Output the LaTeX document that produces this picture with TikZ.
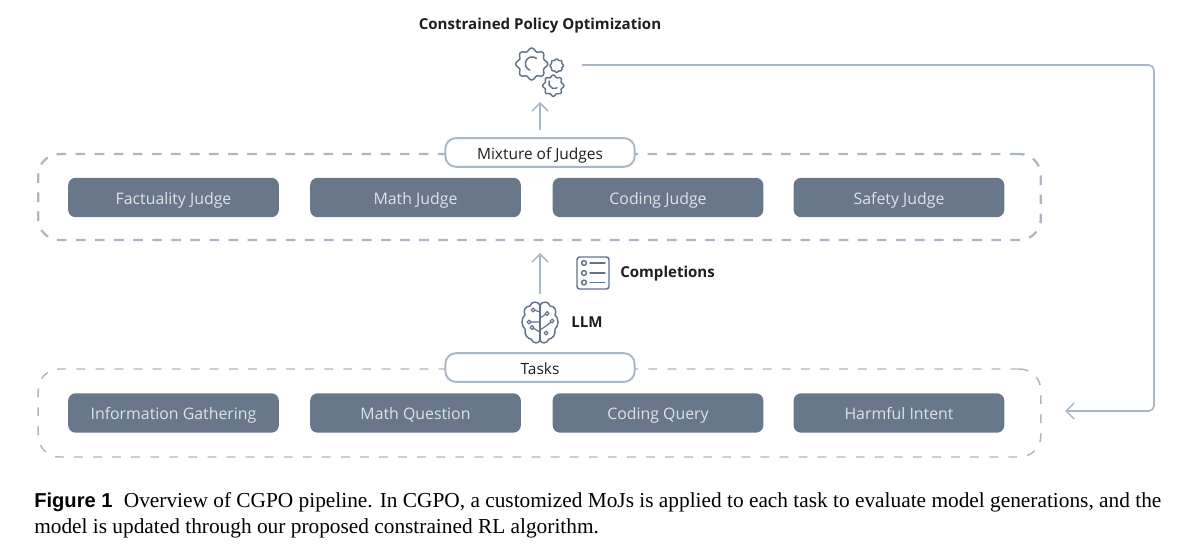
\documentclass[tikz,border=0pt]{standalone}
\usepackage{fontspec}
\setmainfont{Open Sans}
\newfontfamily\capfont{Liberation Serif}
\newfontfamily\capsans{Liberation Sans}
\usetikzlibrary{arrows.meta}
\definecolor{slatebox}{HTML}{68788A}
\definecolor{boxtext}{HTML}{DDE2E7}
\definecolor{linegray}{HTML}{A9B6C3}
\definecolor{icongray}{HTML}{63738A}
\definecolor{inkdark}{HTML}{1C1E21}
\tikzset{
  x=0.75pt,y=-0.75pt,
  judgebox/.style={fill=slatebox,rounded corners=5.5pt,minimum width=158pt,minimum height=29.5pt,inner sep=0pt,text=boxtext,text height=10.4pt,text depth=0.6pt,font=\fontsize{11.9}{13}\selectfont},
  groupbox/.style={draw=linegray,rounded corners=16pt,minimum width=752pt,inner sep=0pt},
  titlebox/.style={draw=linegray,fill=white,line width=1.4pt,rounded corners=8pt,minimum width=142pt,minimum height=21.5pt,inner sep=0pt,text=inkdark,text height=10.4pt,text depth=0.6pt,font=\fontsize{11.6}{13}\selectfont},
  boldlabel/.style={text=inkdark,font=\fontsize{11.3}{13}\selectfont\bfseries,inner sep=0pt,text height=8.6pt,text depth=2.4pt},
  flow/.style={draw=linegray,line width=1.2pt,-{Straight Barb[length=6pt,width=12pt,line width=1.1pt]}},
  icon/.style={draw=icongray,line width=1.1pt,line join=round,line cap=round},
  captext/.style={inner sep=0pt,anchor=base west,text=black,font=\capfont\fontsize{16}{18}\selectfont},
}
\newcommand{\gearshape}[5]{% cx cy r amp teeth
  \draw[icon] plot[domain=0:360,samples=120,smooth cycle] ({#1+(#3+#4*cos(#5*\x))*cos(\x)},{#2+(#3+#4*cos(#5*\x))*sin(\x)});}
\begin{document}
\begin{tikzpicture}
\useasboundingbox (0,0) rectangle (1188,560);
% title
\node[boldlabel] (cpo) at (540,25.5) {Constrained Policy Optimization};
% gears
\node[minimum width=33pt,minimum height=33pt,inner sep=0pt] (gears) at (540,74) {};
\gearshape{531.7}{64}{14.5}{1.5}{8}
\gearshape{556.7}{65.7}{6.2}{0.5}{8}
\gearshape{553.3}{85.7}{9.6}{1}{8}
\draw[icon] (536.5,58.5) arc[start angle=-50,end angle=-250,radius=6.8];
\draw[icon] (549,81) arc[start angle=-160,end angle=-300,radius=5.6];
% judges group
\node[groupbox,line width=1.7pt,dash pattern=on 7.2pt off 7.1pt,minimum height=64.5pt] (judges) at (539.5,197) {};
\node[titlebox] (mix) at (540,152.5) {Mixture of Judges};
\node[judgebox] (j1) at (173.5,197.5) {Factuality Judge};
\node[judgebox] (j2) at (415.5,197.5) {Math Judge};
\node[judgebox] (j3) at (658,197.5) {Coding Judge};
\node[judgebox] (j4) at (899,197.5) {Safety Judge};
% tasks group
\node[groupbox,line width=1.1pt,dash pattern=on 6.6pt off 7.7pt,minimum height=66pt] (tasks) at (539.5,413) {};
\node[titlebox] (tk) at (540,367.5) {Tasks};
\node[judgebox] (t1) at (173.5,413) {Information Gathering};
\node[judgebox] (t2) at (415.5,413) {Math Question};
\node[judgebox] (t3) at (658,413) {Coding Query};
\node[judgebox] (t4) at (899,413) {Harmful Intent};
% completions icon
\node[draw=icongray,line width=1.1pt,rounded corners=2pt,minimum width=24pt,minimum height=24pt,inner sep=0pt] (list) at (593,273) {};
\draw[icon] (584,263) circle[radius=2.4] (584,273) circle[radius=2.4] (584,282.5) circle[radius=2.4];
\draw[icon] (590,263) -- (605,263) (590,273) -- (605,273) (590,282.5) -- (605,282.5);
\node[boldlabel,anchor=west] (comp) at (620,273.5) {Completions};
% brain
\node[minimum width=27pt,minimum height=31pt,inner sep=0pt] (brain) at (540,322.5) {};
\draw[icon] (540,305) .. controls (538,301) and (531,301) .. (530,306)
  .. controls (525,306) and (523,311) .. (525,315)
  .. controls (521,318) and (521,326) .. (525,329)
  .. controls (524,335) and (528,339) .. (531,339)
  .. controls (533,344) and (539,344) .. (540,340);
\draw[icon] (540,305) .. controls (542,301) and (549,301) .. (550,306)
  .. controls (555,306) and (557,311) .. (555,315)
  .. controls (559,318) and (559,326) .. (555,329)
  .. controls (556,335) and (552,339) .. (549,339)
  .. controls (547,344) and (541,344) .. (540,340);
\draw[icon] (540,305) -- (540,340);
\draw[icon,line width=0.9pt] (540,318) -- (546,314) (540,330) -- (546,326) -- (551,322) (540,322) -- (534,322) -- (530,322) (540,332) -- (533,328) (540,312) -- (534,310);
\draw[icon,line width=0.9pt,fill=white] (547,313.5) circle[radius=1.9] (552,321) circle[radius=1.9] (546,333) circle[radius=1.9] (529,322) circle[radius=1.9] (532,327.5) circle[radius=1.9] (533,310) circle[radius=1.9];
\node[boldlabel,anchor=west] (llm) at (571,323.5) {LLM};
% connectors
\coordinate (a1s) at (540,130); \coordinate (a1e) at (540,102);
\coordinate (a2s) at (540,294); \coordinate (a2e) at (540,253);
\coordinate (a3s) at (582,65); \coordinate (a3m) at (1154,65); \coordinate (a3n) at (1154,411); \coordinate (a3e) at (1065,411);
\draw[flow] (a1s) -- (a1e);
\draw[flow] (a2s) -- (a2e);
\draw[flow,rounded corners=4pt] (a3s) -- (a3m) -- (a3n) -- (a3e);
% caption
\node[captext] (cap1) at (34,507) {{\capsans\bfseries\fontsize{15.1}{17}\selectfont Figure 1}\hspace{8.5pt}Overview of CGPO pipeline. In CGPO, a customized MoJs is applied to each task to evaluate model generations, and the};
\node[captext] (cap2) at (34,533) {model is updated through our proposed constrained RL algorithm.};
\end{tikzpicture}
\end{document}
